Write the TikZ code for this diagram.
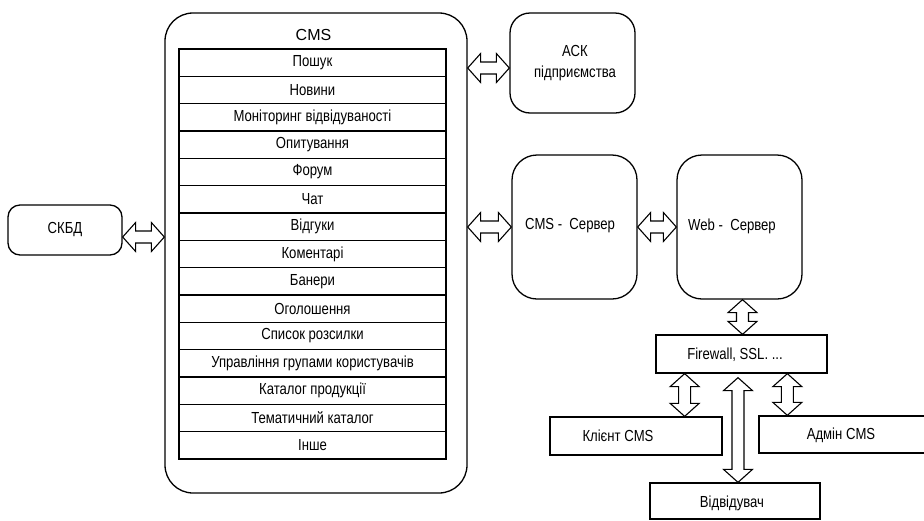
\documentclass[tikz,border=0pt]{standalone}
\usepackage{fontspec}
\setmainfont{Liberation Sans}[FakeStretch=0.82]
\newfontfamily\titlefont{Liberation Sans}
\usetikzlibrary{calc}

\tikzset{
  lbl/.style={font=\fontsize{16pt}{21pt}\selectfont, inner sep=0pt, align=center},
  roundbox/.style={draw, line width=1.3pt, fill=white, rounded corners=#1, inner sep=0pt},
  plainbox/.style={draw, line width=1.3pt, fill=white, inner sep=0pt},
  rowbox/.style={draw, line width=1.2pt, minimum width=267pt, minimum height=27.33pt,
                 inner sep=0pt, font=\fontsize{16pt}{18pt}\selectfont},
  twowaystyle/.style={draw, line width=1.1pt, fill=white, line join=miter}
}

% hollow double-headed arrow between two points
\newcommand\twoway[2]{%
  \draw[twowaystyle] let \p1=#1, \p2=#2,
      \n1={atan2(\y2-\y1,\x2-\x1)}, \n2={veclen(\x2-\x1,\y2-\y1)} in
    [shift={(\p1)}, rotate=\n1]
    (0pt,0pt) -- (13pt,14.5pt) -- (13pt,6pt) -- (\n2-13pt,6pt) -- (\n2-13pt,14.5pt)
    -- (\n2,0pt) -- (\n2-13pt,-14.5pt) -- (\n2-13pt,-6pt) -- (13pt,-6pt)
    -- (13pt,-14.5pt) -- cycle;}

\begin{document}
\begin{tikzpicture}[x=1pt,y=-1pt]
\useasboundingbox (0,0) rectangle (924,520);
\clip (0,0) rectangle (924,520);
\fill[white] (0,0) rectangle (924,520);

% CMS container with its module list
\node[roundbox=28pt, minimum width=302pt, minimum height=480pt] (cms) at (316,253) {};
\node[font=\titlefont\fontsize{16pt}{18pt}\selectfont, inner sep=0pt] (cmstitle) at (313.5,35) {CMS};
\foreach \txt [count=\i from 0] in {Пошук, Новини, Моніторинг відвідуваності, Опитування,
    Форум, Чат, Відгуки, Коментарі, Банери, Оголошення, Список розсилки,
    Управління групами користувачів, Каталог продукції, Тематичний каталог, Інше}
  \node[rowbox] (row\i) at (312.5, {49+27.33*(\i+0.5)}) {\txt};

% database
\node[roundbox=12pt, minimum width=114pt, minimum height=50pt] (skbd) at (65,230) {};
\node[lbl] (skbdtxt) at (65,230) {СКБД};

% enterprise system
\node[roundbox=20pt, minimum width=125pt, minimum height=100pt] (ack) at (572.5,63) {};
\node[lbl] (acktxt) at (575,63) {АСК\\підприємства};

% servers
\node[roundbox=25pt, minimum width=125pt, minimum height=144pt] (cmsserv) at (574.5,227) {};
\node[lbl] (cmsservtxt) at (570,226) {CMS -\ \ Сервер};
\node[roundbox=25pt, minimum width=125pt, minimum height=144pt] (web) at (739.5,227) {};
\node[lbl] (webtxt) at (732,226) {Web -\ \ Сервер};

% firewall and clients
\node[plainbox, minimum width=171pt, minimum height=38pt] (fw) at (741.5,354) {};
\node[lbl] (fwtxt) at (735,355) {Firewall, SSL. ...};
\node[plainbox, minimum width=172pt, minimum height=38pt] (client) at (636,436) {};
\node[lbl] (clienttxt) at (618,436) {Клієнт CMS};
\node[plainbox, minimum width=171pt, minimum height=37pt] (admin) at (844.5,434.5) {};
\node[lbl] (admintxt) at (841,435) {Адмін CMS};
\node[plainbox, minimum width=170pt, minimum height=36pt] (visitor) at (735,501) {};
\node[lbl] (visitortxt) at (732,503) {Відвідувач};

% connectors
\coordinate (sa) at ($(skbd.east)+(0,7)$);
\twoway{(sa)}{(sa -| cms.west)}
\coordinate (aka) at ($(ack.west)+(0,5)$);
\twoway{(aka -| cms.east)}{(aka)}
\twoway{(cmsserv.west -| cms.east)}{(cmsserv.west)}
\twoway{(cmsserv.east)}{(web.west)}
\coordinate (wa) at ($(web.south)+(3,0)$);
\twoway{(wa)}{(wa |- fw.north)}
\coordinate (ca) at ($(client.north east)+(-38,0)$);
\twoway{(ca |- fw.south)}{(ca)}
\coordinate (aa) at ($(admin.north west)+(29,0)$);
\twoway{(aa |- fw.south)}{(aa)}
\coordinate (va) at ($(visitor.north)+(3,0)$);
\twoway{($(va |- fw.south)+(0,4)$)}{(va)}
\end{tikzpicture}
\end{document}
